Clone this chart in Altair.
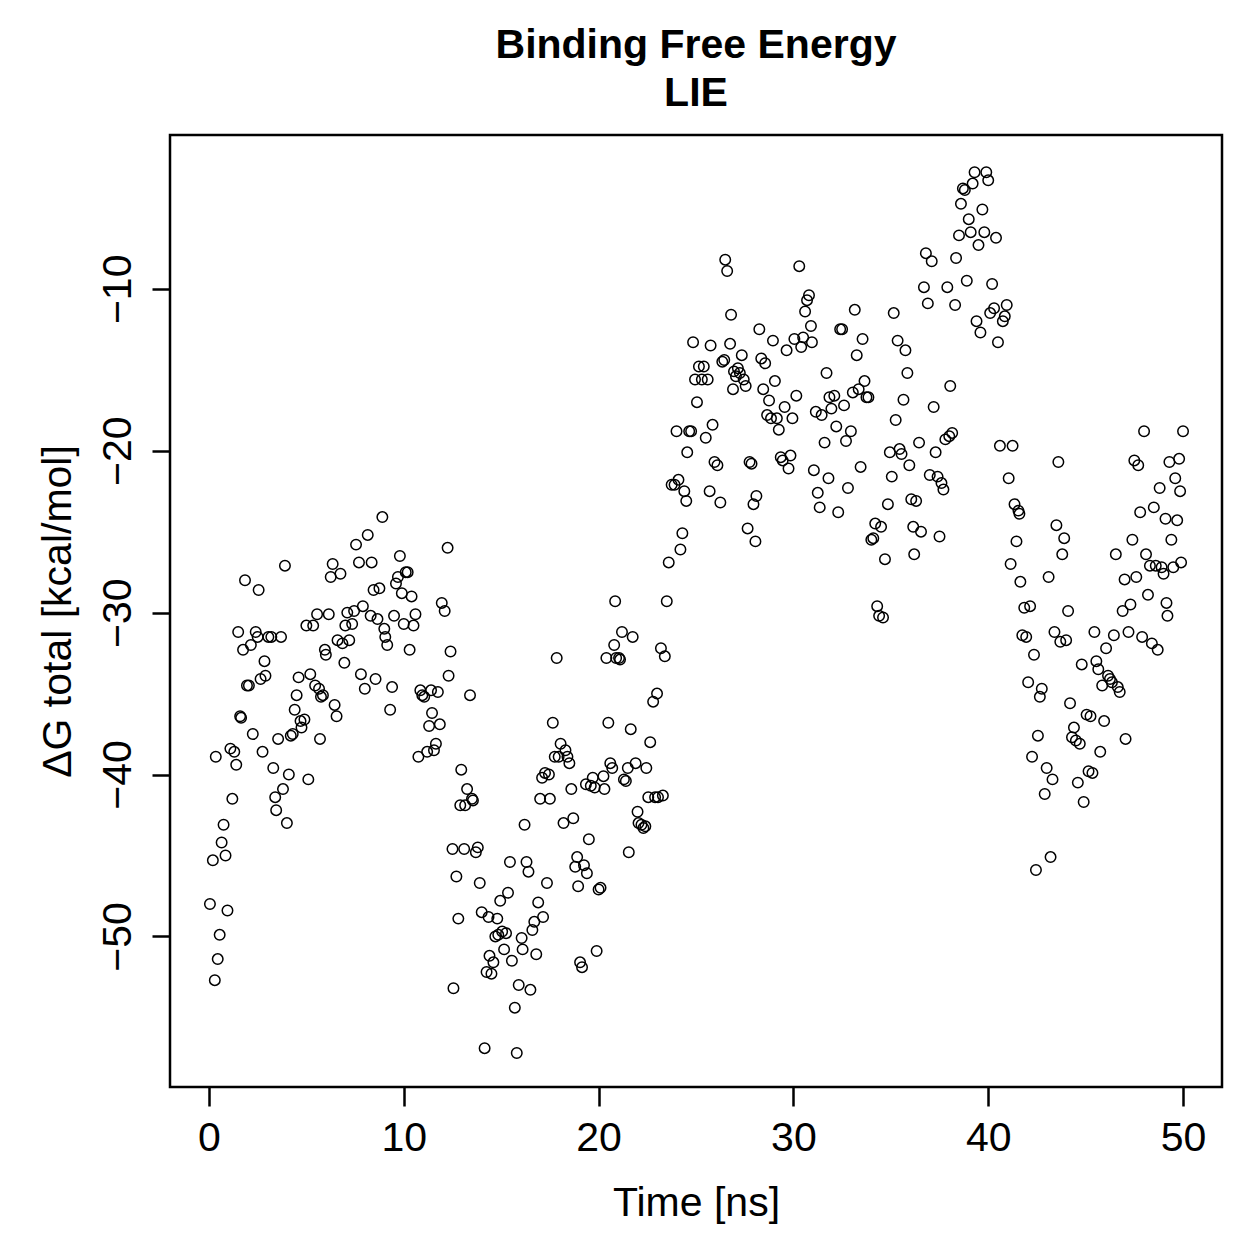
import altair as alt
import pandas as pd

# Binding free energy (LIE) over a 50 ns trajectory, read in 10 ns blocks.
t_00_10 = [0.05, 0.2, 0.3, 0.35, 0.45, 0.55, 0.65, 0.75, 0.85, 0.95,
           1.1, 1.2, 1.3, 1.4, 1.5, 1.6, 1.65, 1.75, 1.85, 1.95,
           2.05, 2.15, 2.25, 2.4, 2.5, 2.55, 2.65, 2.75, 2.85, 2.9,
           3.05, 3.2, 3.3, 3.4, 3.45, 3.55, 3.7, 3.8, 3.9, 4.0,
           4.1, 4.2, 4.3, 4.4, 4.5, 4.6, 4.7, 4.75, 4.9, 5.0,
           5.1, 5.2, 5.35, 5.45, 5.55, 5.65, 5.7, 5.75, 5.85, 5.95,
           6.0, 6.15, 6.25, 6.35, 6.45, 6.55, 6.6, 6.75, 6.85, 6.95,
           7.0, 7.1, 7.2, 7.35, 7.45, 7.55, 7.7, 7.8, 7.9, 8.0,
           8.15, 8.3, 8.35, 8.45, 8.55, 8.65, 8.75, 8.9, 9.0, 9.05,
           9.15, 9.3, 9.4, 9.5, 9.6, 9.7, 9.8, 9.9]
g_00_10 = [-48.0, -45.3, -52.7, -38.9, -51.4, -49.9, -44.2, -43.1, -45.0, -48.4,
           -38.4, -41.5, -38.6, -39.4, -31.2, -36.4, -36.5, -32.3, -28.0, -34.5,
           -34.5, -32.0, -37.5, -31.2, -31.5, -28.6, -34.1, -38.6, -33.0, -33.9,
           -31.5, -31.5, -39.6, -41.4, -42.2, -37.8, -31.5, -40.9, -27.1, -43.0,
           -40.0, -37.6, -37.5, -36.0, -35.1, -34.0, -36.7, -37.1, -36.6, -30.8,
           -40.3, -33.8, -30.8, -34.5, -30.1, -34.7, -37.8, -35.2, -35.1, -32.3,
           -32.6, -30.1, -27.8, -27.0, -35.7, -36.4, -31.7, -27.6, -31.9, -33.1,
           -30.8, -30.0, -31.7, -30.7, -29.9, -25.8, -26.9, -33.8, -29.6, -34.7,
           -25.2, -30.2, -26.9, -28.6, -34.1, -30.4, -28.5, -24.1, -31.0, -31.5,
           -32.0, -36.0, -34.6, -30.2, -28.2, -27.8, -26.5, -28.8]

t_10_20 = [10.0, 10.1, 10.2, 10.3, 10.4, 10.5, 10.6, 10.75, 10.85, 10.95,
           11.05, 11.2, 11.3, 11.4, 11.45, 11.55, 11.65, 11.75, 11.85, 11.95,
           12.1, 12.25, 12.3, 12.4, 12.5, 12.55, 12.7, 12.8, 12.9, 12.95,
           13.1, 13.15, 13.25, 13.4, 13.5, 13.55, 13.7, 13.8, 13.9, 14.0,
           14.15, 14.25, 14.35, 14.4, 14.5, 14.6, 14.7, 14.8, 14.85, 14.95,
           15.05, 15.15, 15.25, 15.35, 15.45, 15.55, 15.7, 15.8, 15.9, 16.05,
           16.1, 16.2, 16.3, 16.4, 16.5, 16.6, 16.7, 16.8, 16.9, 17.0,
           17.1, 17.15, 17.25, 17.35, 17.45, 17.5, 17.65, 17.75, 17.85, 17.95,
           18.05, 18.2, 18.3, 18.4, 18.5, 18.6, 18.7, 18.8, 18.9, 18.95,
           19.05, 19.15, 19.25, 19.35, 19.4, 19.5, 19.6, 19.7, 19.8, 19.9]
g_10_20 = [-30.7, -27.5, -27.5, -32.3, -29.0, -30.8, -30.1, -38.9, -34.8, -35.1,
           -35.2, -38.6, -37.0, -34.8, -36.2, -38.5, -38.1, -34.9, -36.9, -29.4,
           -29.9, -26.0, -33.9, -32.4, -44.6, -53.2, -46.3, -48.9, -41.9, -39.7,
           -44.6, -41.9, -40.9, -35.1, -41.5, -41.6, -44.8, -44.5, -46.7, -48.5,
           -56.9, -52.2, -48.8, -51.2, -52.3, -51.6, -50.0, -48.9, -49.9, -47.8,
           -49.7, -50.8, -49.8, -47.3, -45.4, -51.5, -54.4, -57.2, -53.0, -50.1,
           -50.8, -43.1, -45.4, -46.0, -53.3, -49.6, -49.1, -51.1, -47.9, -41.5,
           -40.2, -48.8, -39.9, -46.7, -40.0, -41.5, -36.8, -38.9, -32.8, -38.9,
           -38.1, -43.0, -38.5, -38.9, -39.3, -40.9, -42.7, -45.7, -45.1, -46.9,
           -51.6, -51.9, -45.6, -40.6, -46.1, -44.0, -40.7, -40.2, -40.8, -50.9]

t_20_30 = [20.0, 20.1, 20.25, 20.3, 20.4, 20.5, 20.6, 20.7, 20.8, 20.85,
           20.9, 21.05, 21.1, 21.2, 21.3, 21.4, 21.5, 21.55, 21.65, 21.75,
           21.9, 22.0, 22.05, 22.2, 22.3, 22.4, 22.45, 22.55, 22.65, 22.8,
           22.9, 23.0, 23.05, 23.2, 23.3, 23.4, 23.5, 23.6, 23.75, 23.9,
           24.0, 24.1, 24.2, 24.3, 24.4, 24.5, 24.55, 24.65, 24.75, 24.85,
           24.95, 25.05, 25.15, 25.3, 25.4, 25.5, 25.6, 25.7, 25.75, 25.85,
           25.95, 26.1, 26.25, 26.35, 26.45, 26.5, 26.6, 26.75, 26.8, 26.9,
           26.95, 27.05, 27.15, 27.25, 27.35, 27.45, 27.55, 27.65, 27.75, 27.85,
           27.95, 28.05, 28.1, 28.25, 28.35, 28.45, 28.55, 28.65, 28.75, 28.85,
           28.95, 29.05, 29.15, 29.25, 29.35, 29.45, 29.55, 29.65, 29.75, 29.85, 29.95]
g_20_30 = [-47.1, -47.0, -40.1, -40.9, -32.8, -36.8, -39.3, -39.6, -32.0, -29.3,
           -32.8, -32.8, -32.9, -31.2, -40.3, -40.4, -39.6, -44.8, -37.2, -31.5,
           -39.3, -42.3, -43.0, -43.1, -43.3, -43.2, -39.6, -41.4, -38.0, -35.5,
           -41.4, -35.0, -41.4, -32.2, -41.3, -32.7, -29.3, -26.9, -22.1, -22.1,
           -18.8, -21.8, -26.1, -25.1, -22.5, -23.1, -20.1, -18.8, -18.8, -13.3,
           -15.6, -17.0, -14.8, -15.6, -14.8, -19.2, -15.6, -22.5, -13.5, -18.4,
           -20.7, -20.9, -23.2, -14.5, -14.4, -8.2, -8.9, -13.4, -11.6, -16.2,
           -15.1, -15.4, -14.9, -15.2, -14.1, -15.6, -16.0, -24.8, -20.7, -20.8,
           -23.3, -25.6, -22.8, -12.5, -14.3, -16.2, -14.6, -17.8, -16.9, -18.0,
           -13.2, -15.7, -18.0, -18.7, -20.4, -20.6, -17.3, -13.8, -21.1, -20.3, -18.0]

t_30_40 = [30.05, 30.15, 30.3, 30.4, 30.5, 30.6, 30.7, 30.8, 30.9, 30.95,
           31.05, 31.15, 31.25, 31.35, 31.45, 31.6, 31.7, 31.8, 31.85, 31.95,
           32.1, 32.2, 32.3, 32.4, 32.5, 32.6, 32.7, 32.8, 32.95, 33.05,
           33.15, 33.25, 33.35, 33.45, 33.55, 33.65, 33.75, 33.85, 34.0, 34.1,
           34.2, 34.3, 34.4, 34.5, 34.6, 34.7, 34.85, 34.95, 35.05, 35.15,
           35.25, 35.35, 35.45, 35.55, 35.65, 35.75, 35.85, 35.95, 36.05, 36.15,
           36.2, 36.3, 36.45, 36.55, 36.7, 36.8, 36.9, 37.0, 37.1, 37.2,
           37.3, 37.4, 37.5, 37.6, 37.7, 37.8, 37.9, 38.0, 38.05, 38.15,
           38.3, 38.35, 38.5, 38.6, 38.7, 38.8, 38.9, 39.0, 39.1, 39.2,
           39.3, 39.4, 39.5, 39.6, 39.7, 39.8, 39.9]
g_30_40 = [-13.1, -16.6, -8.6, -13.6, -13.0, -11.4, -10.7, -10.4, -12.3, -13.3,
           -21.2, -17.6, -22.6, -23.5, -17.8, -19.5, -15.2, -21.7, -16.7, -17.4,
           -16.6, -18.5, -23.8, -12.5, -12.5, -17.2, -19.4, -22.3, -18.8, -16.4,
           -11.3, -14.1, -16.2, -21.0, -13.1, -15.7, -16.7, -16.7, -25.5, -25.4,
           -24.5, -29.6, -30.2, -24.7, -30.3, -26.7, -23.3, -20.1, -21.6, -11.5,
           -18.1, -13.2, -19.9, -20.2, -16.85, -13.8, -15.2, -20.9, -23.0, -24.7,
           -26.4, -23.1, -19.5, -25.0, -9.9, -7.8, -10.9, -21.5, -8.3, -17.3,
           -20.1, -21.6, -25.3, -22.0, -22.4, -19.3, -9.9, -19.1, -16.0, -18.9,
           -11.0, -8.1, -6.7, -4.75, -3.8, -3.9, -9.5, -5.7, -6.5, -3.5,
           -2.8, -12.0, -7.3, -12.7, -5.1, -6.5, -2.8]

t_40_50 = [40.0, 40.1, 40.2, 40.3, 40.4, 40.5, 40.6, 40.75, 40.85, 40.95,
           41.05, 41.15, 41.25, 41.35, 41.45, 41.55, 41.6, 41.65, 41.75, 41.85,
           41.95, 42.05, 42.15, 42.25, 42.35, 42.45, 42.55, 42.65, 42.75, 42.9,
           43.0, 43.1, 43.2, 43.3, 43.4, 43.5, 43.6, 43.7, 43.8, 43.9,
           44.0, 44.1, 44.2, 44.3, 44.4, 44.5, 44.6, 44.7, 44.8, 44.9,
           45.05, 45.15, 45.25, 45.35, 45.45, 45.55, 45.65, 45.75, 45.85, 45.95,
           46.05, 46.15, 46.25, 46.35, 46.45, 46.55, 46.65, 46.75, 46.9, 47.0,
           47.05, 47.2, 47.3, 47.4, 47.5, 47.6, 47.7, 47.8, 47.9, 48.0,
           48.1, 48.2, 48.3, 48.4, 48.5, 48.6, 48.7, 48.8, 48.9, 49.0,
           49.1, 49.15, 49.2, 49.3, 49.4, 49.5, 49.6, 49.7, 49.8, 49.85, 49.9, 50.0]
g_40_50 = [-3.3, -11.5, -9.7, -11.2, -6.85, -13.3, -19.7, -12.0, -11.7, -11.0,
           -21.7, -27.0, -19.7, -23.3, -25.6, -23.7, -23.9, -28.1, -31.4, -29.7,
           -31.5, -34.3, -29.6, -38.9, -32.6, -45.9, -37.6, -35.2, -34.7, -41.2,
           -39.6, -27.8, -45.1, -40.3, -31.2, -24.6, -20.7, -31.8, -26.4, -25.4,
           -31.7, -29.9, -35.6, -37.7, -37.1, -37.9, -40.5, -38.1, -33.2, -41.7,
           -36.3, -39.8, -36.4, -39.9, -31.2, -33.0, -33.5, -38.6, -34.5, -36.7,
           -32.2, -33.9, -34.1, -34.3, -31.4, -26.4, -34.6, -34.9, -29.9, -27.95,
           -37.8, -31.2, -29.5, -25.5, -20.6, -27.8, -20.9, -23.8, -31.5, -18.8,
           -26.4, -28.9, -27.1, -31.9, -23.5, -27.1, -32.3, -22.3, -27.2, -27.6,
           -24.2, -29.4, -30.2, -20.7, -25.5, -27.2, -21.7, -24.3, -20.5, -22.5, -26.9, -18.8]

x_ticks = [0, 10, 20, 30, 40, 50]
y_ticks = [-10, -20, -30, -40, -50]

time_ns = t_00_10 + t_10_20 + t_20_30 + t_30_40 + t_40_50
dg_total = g_00_10 + g_10_20 + g_20_30 + g_30_40 + g_40_50
assert len(time_ns) == len(dg_total)
df = pd.DataFrame({"time": time_ns, "dg": dg_total})

FONT = "Liberation Sans"
W, H = 1052, 952

chart = (
    alt.Chart(df)
    .mark_point(shape="circle", filled=False, color="black", size=110,
                strokeWidth=1.5, opacity=1)
    .encode(
        x=alt.X("time:Q",
                scale=alt.Scale(domain=[-2, 52], nice=False, zero=False),
                axis=alt.Axis(values=x_ticks, title="Time [ns]", grid=False,
                              domain=False, tickSize=19, tickWidth=2.5,
                              tickColor="black", labelFont=FONT,
                              labelFontSize=41, labelColor="black",
                              labelPadding=12, labelFlush=False,
                              titleFont=FONT, titleFontSize=41,
                              titleFontWeight="normal", titleColor="black",
                              titleX=W / 2, titleY=128,
                              titleBaseline="alphabetic", titleAlign="center")),
        y=alt.Y("dg:Q",
                scale=alt.Scale(domain=[-59.3, -0.5], nice=False, zero=False),
                axis=alt.Axis(values=y_ticks, title="ΔG total [kcal/mol]",
                              grid=False, domain=False, tickSize=18,
                              tickWidth=2.5, tickColor="black",
                              labelFont=FONT, labelFontSize=41,
                              labelColor="black", labelAngle=270,
                              labelAlign="center", labelBaseline="alphabetic",
                              labelPadding=22, labelFlush=False,
                              titleFont=FONT, titleFontSize=41,
                              titleFontWeight="normal", titleColor="black",
                              titleAngle=270, titleX=-100, titleY=H / 2,
                              titleBaseline="alphabetic", titleAlign="center")),
    )
    .properties(
        width=W,
        height=H,
        background="white",
        title=alt.TitleParams(["Binding Free Energy", "LIE"], font=FONT,
                              fontSize=41, fontWeight="bold", color="black",
                              anchor="middle", lineHeight=48, offset=20),
        autosize=alt.AutoSizeParams(type="none"),
        padding={"left": 170, "top": 135, "right": 37, "bottom": 172},
    )
    .configure_view(stroke="black", strokeWidth=2.5)
)

chart.save("out.html", embed_options={"renderer": "svg", "actions": False})
